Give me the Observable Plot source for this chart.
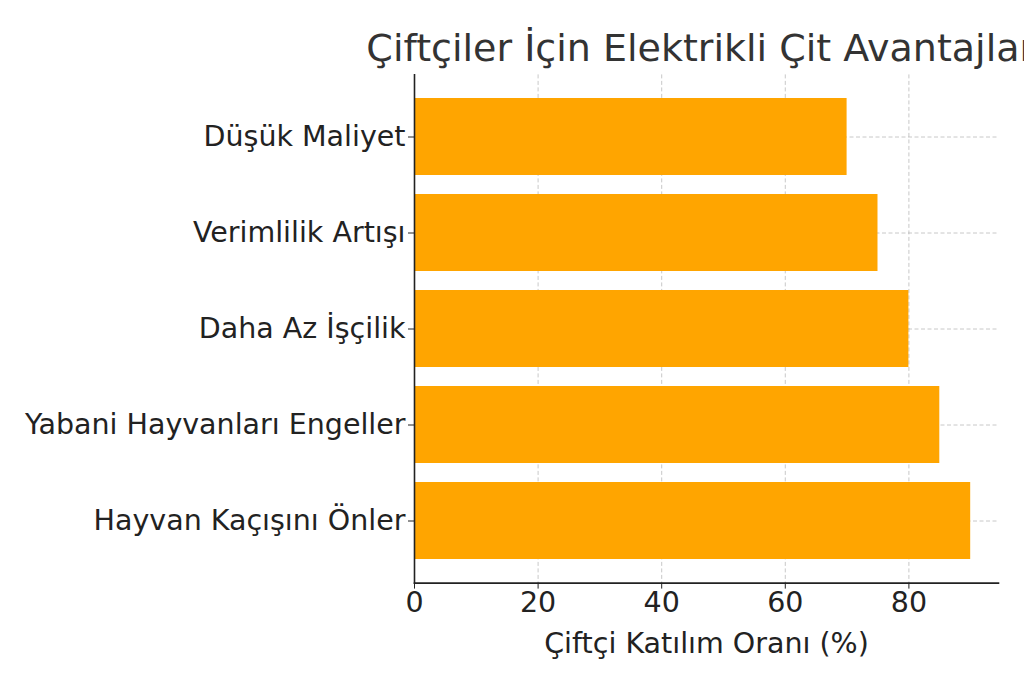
<!DOCTYPE html>
<html>
<head>
<meta charset="utf-8">
<script src="https://cdn.jsdelivr.net/npm/d3@7"></script>
<script src="https://cdn.jsdelivr.net/npm/@observablehq/plot@0.6"></script>
<style>
  html, body { margin: 0; padding: 0; background: #fff; overflow: hidden; }
  #wrap { position: relative; width: 1024px; height: 683px; overflow: hidden; }
  #title { position: absolute; left: 0; top: 25px; width: 1412px; text-align: center;
    font-family: "DejaVu Sans", sans-serif; font-size: 38px; line-height: 46px; color: #333; white-space: nowrap; }
  #chart { position: absolute; left: 0; top: 0; }
</style>
</head>
<body>
<div id="wrap">
  <div id="chart"></div>
  <div id="title">Çiftçiler İçin Elektrikli Çit Avantajları</div>
</div>
<script>
const categories = ["Hayvan Kaçışını Önler", "Yabani Hayvanları Engeller", "Daha Az İşçilik", "Verimlilik Artışı", "Düşük Maliyet"];
const values = [90, 85, 80, 75, 70];
const xTicks = [0, 20, 40, 60, 80];
const xLabel = "Çiftçi Katılım Oranı (%)";

const data = categories.map((c, i) => ({category: c, value: values[i]}));
const yOrder = categories.slice().reverse();

const chart = Plot.plot({
  width: 1024,
  height: 683,
  marginLeft: 414,
  marginRight: 26,
  marginTop: 74.4,
  marginBottom: 100.4,
  style: {fontFamily: "DejaVu Sans, sans-serif", fontSize: "28.5px", color: "#222", background: "white"},
  x: {domain: [0, 94.5], label: null},
  y: {domain: yOrder, paddingInner: 0.2, paddingOuter: 0.24, label: null},
  marks: [
    Plot.gridX(xTicks, {stroke: "#b0b0b0", strokeOpacity: 0.7, strokeDasharray: "4,2.5", strokeWidth: 1}),
    Plot.gridY(categories, {stroke: "#b0b0b0", strokeOpacity: 0.7, strokeDasharray: "4,2.5", strokeWidth: 1}),
    Plot.barX(data, {x: "value", y: "category", fill: "#FFA500"}),
    Plot.axisX({ticks: xTicks, tickSize: 6, tickPadding: 3, tickFormat: d => String(d), fontSize: 28.5, stroke: "#222", fill: "#222",
      label: xLabel, labelAnchor: "center", labelArrow: "none", labelOffset: 70}),
    Plot.axisY({tickSize: 6, tickPadding: 3, fontSize: 28.5, stroke: "#222", fill: "#222", label: null}),
    Plot.frame({anchor: "left", stroke: "#222", strokeWidth: 1.6}),
    Plot.frame({anchor: "bottom", stroke: "#222", strokeWidth: 1.6})
  ]
});
chart.querySelectorAll('[aria-label="x-axis label"] text').forEach(t => t.setAttribute("font-size", "28.5"));
document.getElementById("chart").appendChild(chart);
</script>
</body>
</html>
